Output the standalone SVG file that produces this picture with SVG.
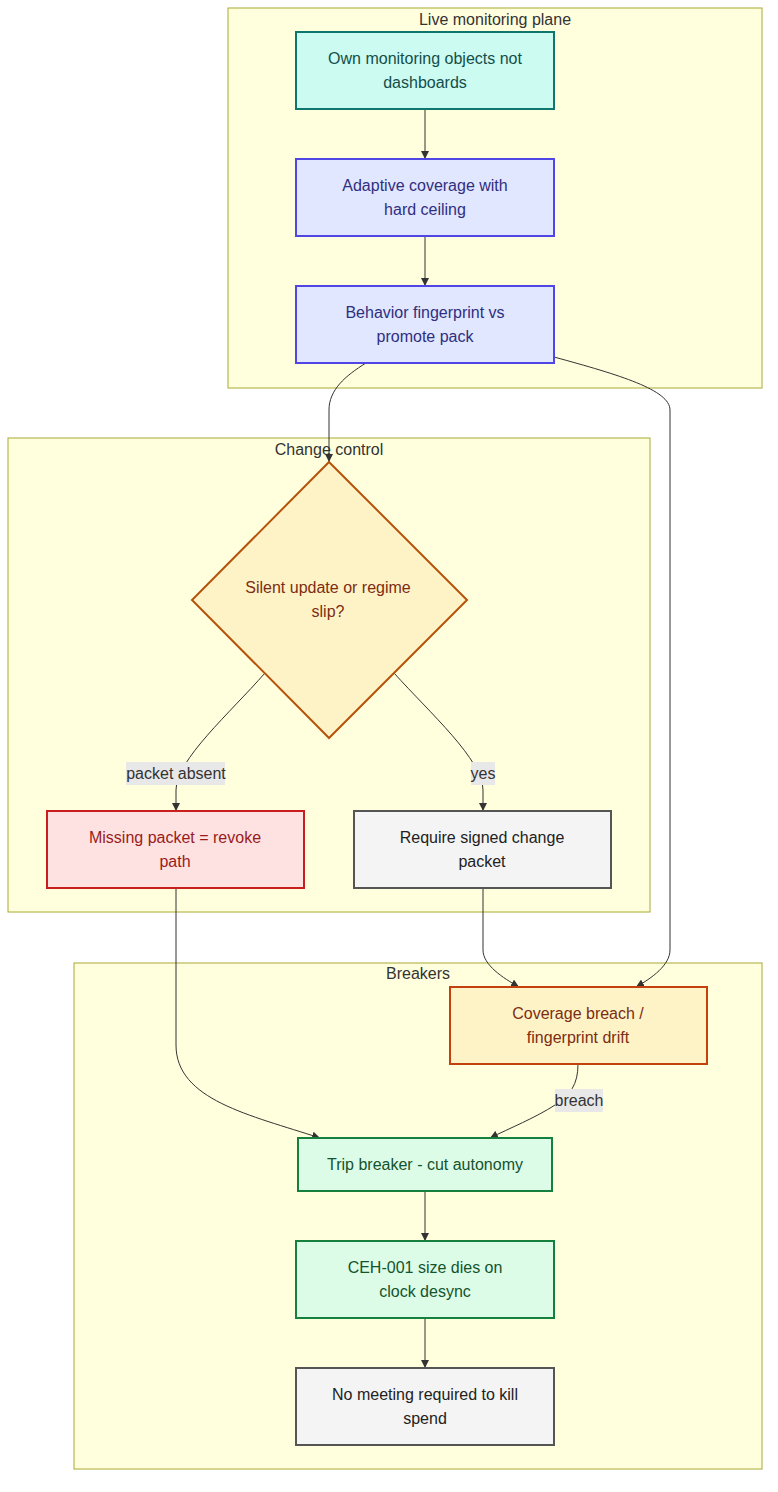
<svg xmlns="http://www.w3.org/2000/svg" width="778" height="1492" viewBox="0 0 778 1492">
<defs>
<marker id="arr" viewBox="0 0 10 10" refX="10" refY="5" markerWidth="8" markerHeight="8" markerUnits="userSpaceOnUse" orient="auto">
<path d="M0,0 L10,5 L0,10 z" fill="#333"/>
</marker>
</defs>
<style>
text{font-family:"Liberation Sans",Arial,sans-serif;font-size:16px;text-anchor:middle}
.cl rect{fill:#ffffde;stroke:#aaaa33;stroke-width:1}
.cl text{fill:#333}
.e{fill:none;stroke:#333;stroke-width:1;marker-end:url(#arr)}
.lb rect{fill:#e8e8e8}
.lb text{fill:#333}
.n{stroke-width:2}
.teal{fill:#ccfbf1;stroke:#0f766e}
.blue{fill:#e0e7ff;stroke:#4f46e5}
.amber{fill:#fef3c7;stroke:#b45309}
.red{fill:#fee2e2;stroke:#c81e1e}
.grey{fill:#f4f4f4;stroke:#555}
.green{fill:#dcfce7;stroke:#15803d}
.tteal{fill:#134e4a}
.tblue{fill:#312e81}
.tamber{fill:#7c2d12}
.tred{fill:#991b1b}
.tgrey{fill:#222}
.tgreen{fill:#14532d}
</style>
<g id="clusters" class="cl">
<g id="cluster-live"><rect x="228" y="8" width="534" height="380"/><text x="495" y="25">Live monitoring plane</text></g>
<g id="cluster-change"><rect x="8" y="438" width="642" height="474"/><text x="329" y="455">Change control</text></g>
<g id="cluster-breakers"><rect x="74" y="963" width="688" height="506"/><text x="418" y="979">Breakers</text></g>
</g>
<g id="edges">
<path class="e" d="M425,109 L425,159"/>
<path class="e" d="M425,236 L425,286"/>
<path class="e" d="M366,363 C345,376 329,390 329,410 L329,462"/>
<path class="e" d="M554,357 C620,375 670,390 670,410 L670,950 C670,965 652,978 636,987"/>
<path class="e" d="M265,673 C230,713 176,760 176,790 L176,811"/>
<path class="e" d="M394,673 C430,713 483,760 483,790 L483,811"/>
<path class="e" d="M483,888 L483,950 C483,965 503,978 519,987"/>
<path class="e" d="M176,888 L176,1045 C176,1100 250,1115 320,1138"/>
<path class="e" d="M578,1064 C578,1085 570,1095 555,1105 C535,1118 510,1128 490,1138"/>
<path class="e" d="M425,1191 L425,1241"/>
<path class="e" d="M425,1318 L425,1368"/>
<g class="lb"><rect x="126" y="762" width="99" height="23"/><text x="176" y="779">packet absent</text></g>
<g class="lb"><rect x="471" y="762" width="24" height="23"/><text x="483" y="779">yes</text></g>
<g class="lb"><rect x="555" y="1089" width="48" height="23"/><text x="579" y="1106">breach</text></g>
</g>
<g id="node-own"><rect class="n teal" x="296" y="32" width="258" height="77"/><text class="tteal" x="425" y="64">Own monitoring objects not</text><text class="tteal" x="425" y="88">dashboards</text></g>
<g id="node-adaptive"><rect class="n blue" x="296" y="159" width="258" height="77"/><text class="tblue" x="425" y="191">Adaptive coverage with</text><text class="tblue" x="425" y="215">hard ceiling</text></g>
<g id="node-behavior"><rect class="n blue" x="296" y="286" width="258" height="77"/><text class="tblue" x="425" y="318">Behavior fingerprint vs</text><text class="tblue" x="425" y="342">promote pack</text></g>
<g id="node-silent"><polygon class="n amber" points="329,462 467,600 329,738 192,600"/><text class="tamber" x="328" y="593">Silent update or regime</text><text class="tamber" x="328" y="617">slip?</text></g>
<g id="node-missing"><rect class="n red" x="47" y="811" width="257" height="77"/><text class="tred" x="175" y="843">Missing packet = revoke</text><text class="tred" x="175" y="867">path</text></g>
<g id="node-require"><rect class="n grey" x="354" y="811" width="257" height="77"/><text class="tgrey" x="482" y="843">Require signed change</text><text class="tgrey" x="482" y="867">packet</text></g>
<g id="node-coverage"><rect class="n amber" x="450" y="987" width="257" height="77" style="stroke:#c2410c"/><text class="tamber" x="578" y="1019">Coverage breach /</text><text class="tamber" x="578" y="1043">fingerprint drift</text></g>
<g id="node-trip"><rect class="n green" x="298" y="1138" width="254" height="53"/><text class="tgreen" x="425" y="1170">Trip breaker - cut autonomy</text></g>
<g id="node-ceh"><rect class="n green" x="296" y="1241" width="258" height="77"/><text class="tgreen" x="425" y="1273">CEH-001 size dies on</text><text class="tgreen" x="425" y="1297">clock desync</text></g>
<g id="node-nomeeting"><rect class="n grey" x="296" y="1368" width="258" height="77"/><text class="tgrey" x="425" y="1400">No meeting required to kill</text><text class="tgrey" x="425" y="1424">spend</text></g>
</svg>
